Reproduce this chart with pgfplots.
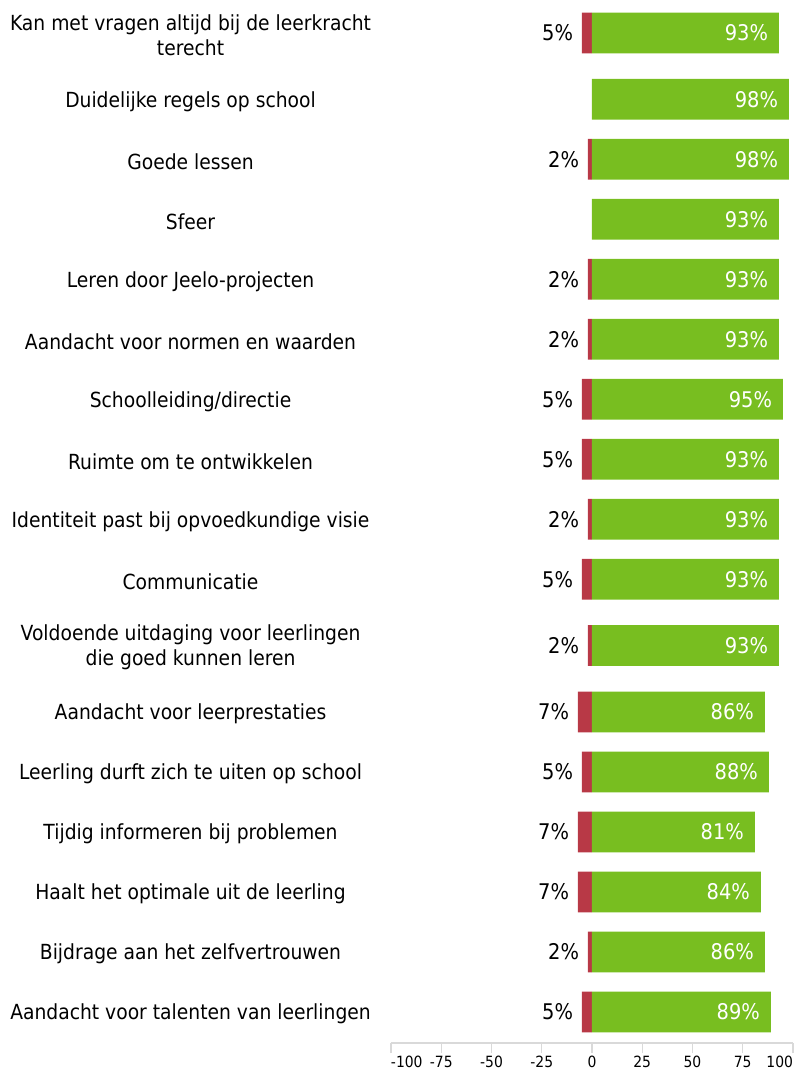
\documentclass[border=0pt]{standalone}
\usepackage{fontspec}
\setmainfont{DejaVu Sans}[FakeStretch=0.9]
\usepackage{pgfplots}
\pgfplotsset{compat=1.18}
\definecolor{negred}{RGB}{184,57,70}
\definecolor{posgreen}{RGB}{120,190,32}
\definecolor{axgray}{RGB}{217,217,217}
\begin{document}
\begin{tikzpicture}[x=1pt,y=1pt]
\begin{axis}[
  at={(0pt,0pt)}, anchor=south west,
  scale only axis,
  width=301.5pt, height=782.25pt,
  xmin=-100, xmax=100,
  ymin=0, ymax=1043,
  y dir=reverse,
  enlargelimits=false,
  clip=false,
  axis x line*=bottom,
  axis y line*=left,
  y axis line style={draw=none},
  x axis line style={draw=axgray, line width=1.1pt},
  xtick={-100,-75,-50,-25,0,25,50,75,100},
  xticklabels={{\makebox[0pt][l]{-100}},-75,-50,-25,0,25,50,75,{\makebox[0pt][r]{100}}},
  tick align=outside,
  major tick length=7.5pt,
  xtick style={draw=axgray, line width=1.1pt},
  ytick style={draw=none},
  xticklabel style={font=\fontsize{11.6pt}{13pt}\selectfont, anchor=north, yshift=-2pt, inner sep=0pt},
  ytick={33,99.3,159.3,219.3,279.3,339.3,399.3,459.3,519.3,579.3,645.5,712,772,832,892,952,1012},
  yticklabels={
    {Kan met vragen altijd bij de leerkracht\\terecht},
    {Duidelijke regels op school},
    {Goede lessen},
    {Sfeer},
    {Leren door Jeelo-projecten},
    {Aandacht voor normen en waarden},
    {Schoolleiding/directie},
    {Ruimte om te ontwikkelen},
    {Identiteit past bij opvoedkundige visie},
    {Communicatie},
    {Voldoende uitdaging voor leerlingen\\die goed kunnen leren},
    {Aandacht voor leerprestaties},
    {Leerling durft zich te uiten op school},
    {Tijdig informeren bij problemen},
    {Haalt het optimale uit de leerling},
    {Bijdrage aan het zelfvertrouwen},
    {Aandacht voor talenten van leerlingen}},
  yticklabel style={font=\fontsize{15.6pt}{18.75pt}\selectfont, align=center, anchor=center, xshift=-142.85pt, yshift=-1.6pt, inner sep=0pt},
  xbar, bar width=30.5pt,
  nodes near coords={\pgfplotspointmeta},
  point meta=explicit symbolic,
]
% red (negative) series
\addplot[fill=negred, draw=none, bar shift=0pt,
  nodes near coords style={anchor=east, xshift=-6.5pt, inner sep=0pt, text=black, font=\fontsize{16.2pt}{18pt}\selectfont}]
coordinates {
  (-5,33) [5\%]
  (-2,159.3) [2\%]
  (-2,279.3) [2\%]
  (-2,339.3) [2\%]
  (-5,399.3) [5\%]
  (-5,459.3) [5\%]
  (-2,519.3) [2\%]
  (-5,579.3) [5\%]
  (-2,645.5) [2\%]
  (-7,712) [7\%]
  (-5,772) [5\%]
  (-7,832) [7\%]
  (-7,892) [7\%]
  (-2,952) [2\%]
  (-5,1012) [5\%]
};
% green (positive) series
\addplot[fill=posgreen, draw=none, bar shift=0pt,
  nodes near coords style={anchor=east, xshift=-8pt, inner sep=0pt, text=white, font=\fontsize{16.2pt}{18pt}\selectfont}]
coordinates {
  (93,33) [93\%]
  (98,99.3) [98\%]
  (98,159.3) [98\%]
  (93,219.3) [93\%]
  (93,279.3) [93\%]
  (93,339.3) [93\%]
  (95,399.3) [95\%]
  (93,459.3) [93\%]
  (93,519.3) [93\%]
  (93,579.3) [93\%]
  (93,645.5) [93\%]
  (86,712) [86\%]
  (88,772) [88\%]
  (81,832) [81\%]
  (84,892) [84\%]
  (86,952) [86\%]
  (89,1012) [89\%]
};
\end{axis}
\pgfresetboundingbox
\useasboundingbox (-293.25pt,-22.5pt) rectangle (303pt,782.25pt);
\end{tikzpicture}
\end{document}
